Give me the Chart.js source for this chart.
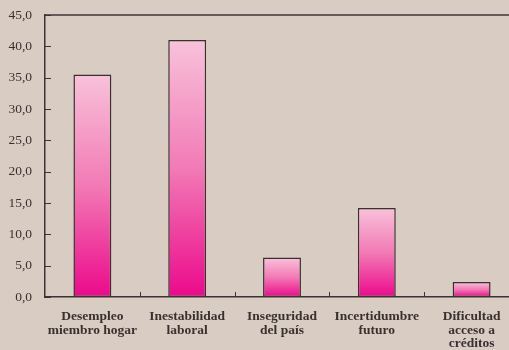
<!DOCTYPE html>
<html>
<head>
<meta charset="utf-8">
<script src="https://cdn.jsdelivr.net/npm/chart.js@4/dist/chart.umd.min.js"></script>
<style>
html,body{margin:0;padding:0;background:#d9cdc3;overflow:hidden;width:509px;height:350px;}
#wrap{position:absolute;left:0;top:0;width:520px;height:350px;}
</style>
</head>
<body>
<div id="wrap"><canvas id="c" width="520" height="350"></canvas></div>
<script>
const categories = [
  ["Desempleo","miembro hogar"],
  ["Inestabilidad","laboral"],
  ["Inseguridad","del país"],
  ["Incertidumbre","futuro"],
  ["Dificultad","acceso a","créditos"]
];
const values = [35.5, 41.0, 6.3, 14.2, 2.4];
const yMin = 0, yMax = 45, yStep = 5;

const axisColor = '#3c3434';
const textColor = '#3a3030';

const innerTicks = {
  id: 'innerTicks',
  afterDraw(chart) {
    const ctx = chart.ctx, a = chart.chartArea;
    const xs = chart.scales.x, ys = chart.scales.y;
    ctx.save();
    ctx.strokeStyle = axisColor;
    ctx.lineWidth = 1.5;
    ctx.beginPath();
    ctx.moveTo(a.left, a.top);
    ctx.lineTo(a.right, a.top);
    ctx.stroke();
    ctx.lineWidth = 1;
    ys.ticks.forEach(t => {
      const y = Math.round(ys.getPixelForValue(t.value)) + 0.5;
      ctx.beginPath();
      ctx.moveTo(a.left, y);
      ctx.lineTo(a.left + 6, y);
      ctx.stroke();
    });
    for (let i = 0; i < categories.length - 1; i++) {
      const x = Math.round((xs.getPixelForValue(i) + xs.getPixelForValue(i + 1)) / 2) + 0.5;
      ctx.beginPath();
      ctx.moveTo(x, a.bottom);
      ctx.lineTo(x, a.bottom - 5);
      ctx.stroke();
    }
    ctx.restore();
  }
};

new Chart(document.getElementById('c'), {
  type: 'bar',
  data: {
    labels: categories,
    datasets: [{
      data: values,
      backgroundColor: (ctx) => {
        const chart = ctx.chart;
        const ys = chart.scales.y;
        if (!ys || ctx.raw === undefined) return '#f06aae';
        const top = ys.getPixelForValue(ctx.raw);
        const bot = ys.getPixelForValue(0);
        if (!isFinite(top) || !isFinite(bot) || top === bot) return '#f06aae';
        const g = chart.ctx.createLinearGradient(0, top, 0, bot);
        g.addColorStop(0, '#f8c2da');
        g.addColorStop(0.5, '#f27ab5');
        g.addColorStop(1, '#ec098b');
        return g;
      },
      borderColor: '#3a3030',
      borderWidth: 1.5,
      borderSkipped: false,
      barPercentage: 0.4,
      categoryPercentage: 1.0
    }]
  },
  options: {
    responsive: false,
    animation: false,
    devicePixelRatio: 1,
    layout: { padding: { top: 15, right: 1, left: 0, bottom: 0 } },
    plugins: { legend: { display: false }, tooltip: { enabled: false } },
    scales: {
      x: {
        offset: true,
        grid: { display: false, drawTicks: false },
        border: { display: true, color: axisColor, width: 1.5 },
        ticks: {
          color: textColor,
          padding: 13,
          maxRotation: 0,
          autoSkip: false,
          font: { family: '"Liberation Serif", "Times New Roman", serif', size: 13.5, weight: 'bold', lineHeight: 1.0 }
        },
        afterFit(s) { s.height = 53; s.paddingLeft = 0; s.paddingRight = 0; }
      },
      y: {
        min: yMin, max: yMax,
        grid: { display: false, drawTicks: false },
        border: { display: true, color: axisColor, width: 1.5 },
        ticks: {
          stepSize: yStep,
          color: textColor,
          padding: 13,
          font: { family: '"Liberation Serif", "Times New Roman", serif', size: 13.5 },
          callback: (v) => Number(v).toFixed(1).replace('.', ',')
        },
        afterFit(s) { s.width = 45; s.paddingTop = 0; s.paddingBottom = 0; }
      }
    }
  },
  plugins: [innerTicks]
});
</script>
</body>
</html>
